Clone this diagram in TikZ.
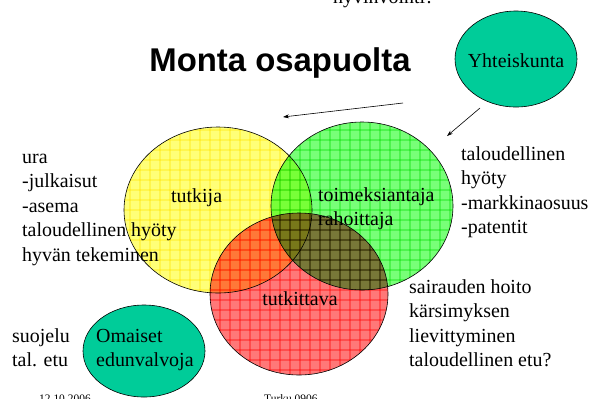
\documentclass[tikz,border=0pt]{standalone}
\usepackage{fontspec}
\setmainfont{Liberation Serif}
\newfontfamily\titlefont{Liberation Sans}
\usetikzlibrary{shapes.geometric,arrows.meta}
\definecolor{tealfill}{RGB}{0,204,153}
\definecolor{yelbase}{RGB}{255,255,120}
\definecolor{yelgrid}{RGB}{255,232,0}
\definecolor{grnbase}{RGB}{120,255,120}
\definecolor{grngrid}{RGB}{0,225,0}
\definecolor{redbase}{RGB}{255,120,120}
\definecolor{redgrid}{RGB}{255,0,0}
\newcommand*\gridfill[7]{% centre x, centre y, rx, ry, base, grid lines
  \begin{scope}
    \clip (#1,#2) ellipse [x radius=#3bp, y radius=#4bp];
    \fill[#5] (#1-#3,#2-#4) rectangle (#1+#3,#2+#4);
    \foreach \gx in {#7} \draw[#6, line width=0.9bp] (\gx,#2-#4) -- (\gx,#2+#4);
    \foreach \gy in {100,110,...,380} \draw[#6, line width=0.9bp] (#1-#3,\gy) -- (#1+#3,\gy);
  \end{scope}}

\begin{document}
\begin{tikzpicture}[x=1bp,y=-1bp,
    party/.style={ellipse, draw=black, line width=0.6bp, inner sep=0pt},
    actor/.style={party, fill=tealfill},
    txt/.style={font=\fontsize{20}{24.5}\selectfont, align=left, inner sep=0pt, anchor=base west},
    flow/.style={line width=0.6bp, -{Stealth[length=6bp, width=4bp]}}]
  \useasboundingbox (0,0) rectangle (592,398);
  \clip (0,0) rectangle (592,398);

  % Title and cut-off texts (base of a node = its last line)
  \node[font=\titlefont\bfseries\fontsize{33}{36}\selectfont, inner sep=0pt, anchor=base] (title) at (280,71) {Monta osapuolta};
  \node[txt] (topnote) at (333,3) {hyvinvointi?};
  \node[font=\fontsize{11.5}{13}\selectfont, inner sep=0pt, anchor=base west] (date) at (39,402) {12.10.2006};
  \node[font=\fontsize{11.5}{13}\selectfont, inner sep=0pt, anchor=base west] (place) at (264,402) {Turku 0906};

  % Patterned circles, multiplied where they overlap
  \begin{scope}[blend group=multiply]
    \gridfill{218}{210}{94}{83}{yelbase}{yelgrid}{120,130,...,310}
    \gridfill{362}{206}{91}{84}{grnbase}{grngrid}{270,280,...,450}
    \gridfill{299}{294}{89}{81}{redbase}{redgrid}{210,220,...,390}
  \end{scope}
  \node[party, minimum width=188bp, minimum height=166bp] (tutkijaE) at (218,210) {};
  \node[party, minimum width=182bp, minimum height=168bp] (toimE) at (362,206) {};
  \node[party, minimum width=178bp, minimum height=162bp] (tutkittavaE) at (299,294) {};

  % Labels inside the circles
  \node[txt] (tutkija) at (171,202) {tutkija};
  \node[txt] (toim) at (318,225.5) {toimeksiantaja\\rahoittaja};
  \node[txt, anchor=base] (tutkittava) at (300,305) {tutkittava};

  % Other parties
  \node[actor, minimum width=122bp, minimum height=96bp] (yhteis) at (516,59) {};
  \node[txt, anchor=base] at (516,67) {Yhteiskunta};
  \node[actor, minimum width=122bp, minimum height=92bp] (omaiset) at (144,351) {};
  \node[txt] at (96,366.5) {Omaiset\\edunvalvoja};

  % Interests
  \node[txt] (uraT) at (22,261) {ura\\-julkaisut\\-asema\\taloudellinen hy\"oty\\hyv\"an tekeminen};
  \node[txt] (hyotyT) at (461,233.5) {taloudellinen\\hy\"oty\\-markkinaosuus\\-patentit};
  \node[txt] (hoitoT) at (409,366.5) {sairauden hoito\\k\"arsimyksen\\lievittyminen\\taloudellinen etu?};
  \node[txt] (suojeluT) at (12,366.5) {suojelu\\tal. etu};

  % Arrows
  \coordinate (a1s) at (403,103);
  \coordinate (a1e) at (283,117);
  \coordinate (a2s) at (480,108);
  \coordinate (a2e) at (447,136);
  \draw[flow] (a1s) -- (a1e);
  \draw[flow] (a2s) -- (a2e);
\end{tikzpicture}
\end{document}
